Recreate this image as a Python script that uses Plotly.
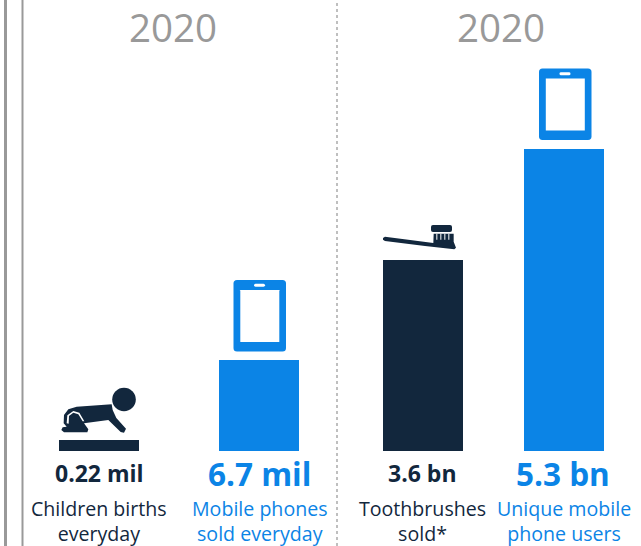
import plotly.graph_objects as go

W, H = 641, 546

# Values per panel
left_categories = ["Children births<br>everyday", "Mobile phones<br>sold everyday"]
left_values = [0.22, 6.7]
left_labels = ["0.22 mil", "6.7 mil"]
right_categories = ["Toothbrushes<br>sold*", "Unique mobile<br>phone users"]
right_values = [3.6, 5.3]
right_labels = ["3.6 bn", "5.3 bn"]
panel_title = "2020"

NAVY = "#12273d"
BLUE = "#0b84e6"
GREY = "#999999"
FONT = "Open Sans"
BASELINE_PX = 451

# Each panel has its own truncated value axis
left_floor, left_scale = -0.668, 12.35    # millions, px per million
right_floor, right_scale = 0.675, 65.3    # billions, px per billion


def px(x):
    return x / W


def py(y):
    return 1 - y / H


def path(*points):
    return "M" + "L".join(f"{px(x):.5f},{py(y):.5f}" for x, y in points) + "Z"


def icon_path(ox, oy, points):
    # Icon outlines are stored at three times their drawn size
    return path(*[(ox + x / 3, oy + y / 3) for x, y in points])


def rounded_rect(x0, y0, x1, y1, r):
    return (
        f"M{px(x0 + r):.5f},{py(y0):.5f}L{px(x1 - r):.5f},{py(y0):.5f}"
        f"Q{px(x1):.5f},{py(y0):.5f} {px(x1):.5f},{py(y0 + r):.5f}"
        f"L{px(x1):.5f},{py(y1 - r):.5f}"
        f"Q{px(x1):.5f},{py(y1):.5f} {px(x1 - r):.5f},{py(y1):.5f}"
        f"L{px(x0 + r):.5f},{py(y1):.5f}"
        f"Q{px(x0):.5f},{py(y1):.5f} {px(x0):.5f},{py(y1 - r):.5f}"
        f"L{px(x0):.5f},{py(y0 + r):.5f}"
        f"Q{px(x0):.5f},{py(y0):.5f} {px(x0 + r):.5f},{py(y0):.5f}Z"
    )


def solid(d, color):
    return dict(type="path", xref="paper", yref="paper", path=d,
                fillcolor=color, line=dict(width=0), layer="above")


def phone_icon(x0, y0):
    return [
        solid(rounded_rect(x0, y0, x0 + 52.5, y0 + 71.5, 3.5), BLUE),
        solid(rounded_rect(x0 + 6.8, y0 + 10, x0 + 45.8, y0 + 62, 0.2), "white"),
        solid(rounded_rect(x0 + 20.5, y0 + 3.8, x0 + 31.5, y0 + 6.8, 1.5), "white"),
    ]


def vline(x, width, dash="solid", color=GREY):
    return dict(type="line", xref="paper", yref="paper", x0=px(x), x1=px(x), y0=0, y1=1,
                line=dict(color=color, width=width, dash=dash), layer="below")


def circle(cx, cy, r, color):
    return dict(type="circle", xref="paper", yref="paper",
                x0=px(cx - r), x1=px(cx + r), y0=py(cy + r), y1=py(cy - r),
                fillcolor=color, line=dict(width=0), layer="above")


BABY_ORIGIN = (50, 380)
baby_body = [(185, 73), (80, 80), (55, 88), (42, 105), (41, 130), (50, 140), (38, 142), (34, 150),
             (42, 157), (112, 157), (115, 148), (102, 130), (175, 120), (212, 156), (222, 158),
             (228, 146), (199, 114), (188, 90)]
baby_gap = [(50, 130), (52, 106), (70, 93), (88, 98), (103, 124), (98, 124), (85, 103),
            (70, 98), (57, 108), (56, 131)]
baby = [
    circle(124, 399.5, 11.8, NAVY),
    solid(icon_path(*BABY_ORIGIN, baby_body), NAVY),
    solid(icon_path(*BABY_ORIGIN, baby_gap), "white"),
]

BRUSH_ORIGIN = (375, 215)
brush_body = [(24, 69), (30, 65), (175, 84), (176, 56), (236, 56), (236, 80), (243, 98), (238, 103),
              (150, 93), (30, 78), (24, 74)]
toothbrush = [
    solid(icon_path(*BRUSH_ORIGIN, brush_body), NAVY),
    solid(rounded_rect(431, 225, 452, 232, 2), NAVY),
]
for stripe in (184, 196, 208, 220):
    toothbrush.append(solid(icon_path(*BRUSH_ORIGIN, [(stripe, 56), (stripe + 3, 56),
                                                      (stripe + 3, 74), (stripe, 74)]), "white"))

fig = go.Figure()
fig.add_bar(x=left_categories, y=[v - left_floor for v in left_values], base=left_floor,
            marker=dict(color=[NAVY, BLUE], line=dict(width=0)), xaxis="x", yaxis="y")
fig.add_bar(x=right_categories, y=[v - right_floor for v in right_values], base=right_floor,
            marker=dict(color=[NAVY, BLUE], line=dict(width=0)), xaxis="x2", yaxis="y2")

annotations = []
for axis, cats, labels in (("x", left_categories, left_labels), ("x2", right_categories, right_labels)):
    for cat, label, color, size in zip(cats, labels, [NAVY, BLUE], [23, 31.5]):
        annotations.append(dict(x=cat, xref=axis, y=py(473), yref="paper", text=f"<b>{label}</b>",
                                showarrow=False, xanchor="center", yanchor="middle",
                                font=dict(family=FONT, size=size, color=color)))
    for cat, color, shift in zip(cats, [NAVY, BLUE], [0, 1]):
        annotations.append(dict(x=cat, xref=axis, y=py(521), yref="paper", text=cat, xshift=shift,
                                showarrow=False, xanchor="center", yanchor="middle", align="center",
                                font=dict(family=FONT, size=19.6, color=color)))
for center in (173, 501):
    annotations.append(dict(x=px(center), xref="paper", y=1, yref="paper", text=panel_title,
                            showarrow=False, xanchor="center", yanchor="top", borderpad=0,
                            font=dict(family=FONT, size=38.5, color=GREY)))

axis_common = dict(showgrid=False, zeroline=False, showticklabels=False, ticks="", showline=False)
fig.update_layout(
    width=W, height=H, margin=dict(l=0, r=0, t=0, b=0),
    paper_bgcolor="white", plot_bgcolor="white", showlegend=False,
    bargap=0.0,
    xaxis=dict(domain=[px(19), px(339)], **axis_common),
    xaxis2=dict(domain=[px(351.5), px(633.5)], **axis_common),
    yaxis=dict(domain=[py(BASELINE_PX), 1], anchor="x",
               range=[left_floor, left_floor + BASELINE_PX / left_scale], **axis_common),
    yaxis2=dict(domain=[py(BASELINE_PX), 1], anchor="x2",
                range=[right_floor, right_floor + BASELINE_PX / right_scale], **axis_common),
    annotations=annotations,
    shapes=[vline(5.5, 3), vline(22.5, 2), vline(337, 1.5, "dot", "#aaaaaa")]
           + phone_icon(233.5, 280) + phone_icon(539, 68.5) + baby + toothbrush,
)
# Bar widths differ slightly per panel because the category bands differ
fig.data[0].width = 0.5
fig.data[1].width = 80 / 141

fig.write_html("out.html")
